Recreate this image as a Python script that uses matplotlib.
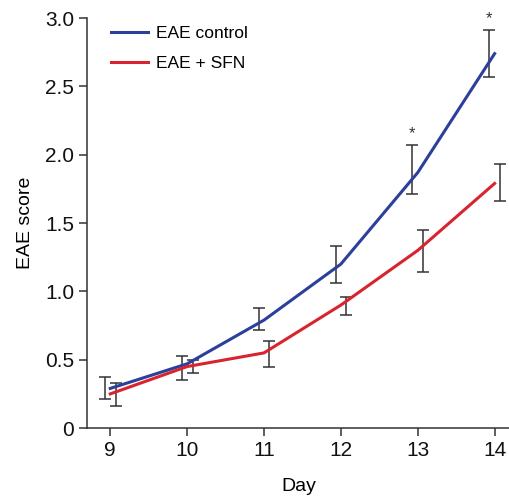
import matplotlib
matplotlib.use('Agg')
import matplotlib.pyplot as plt
import numpy as np

plt.rcParams['font.family'] = ['Liberation Sans', 'DejaVu Sans']

# data
days = [9, 10, 11, 12, 13, 14]
ctrl_mean = [0.29, 0.47, 0.79, 1.20, 1.87, 2.74]
ctrl_lo = [0.21, 0.35, 0.72, 1.06, 1.71, 2.57]
ctrl_hi = [0.37, 0.53, 0.88, 1.33, 2.07, 2.91]
sfn_mean = [0.25, 0.45, 0.55, 0.90, 1.30, 1.79]
sfn_lo = [0.16, 0.40, 0.45, 0.83, 1.14, 1.66]
sfn_hi = [0.33, 0.50, 0.64, 0.96, 1.45, 1.93]
star_days = [13, 14]

blue = '#2b3f9b'
red = '#d8242e'
grey = '#333333'

fig = plt.figure(figsize=(5.10, 5.03), dpi=100)
ax = fig.add_axes([0.171, 0.149, 0.829, 0.815])

d = np.array(days, dtype=float)
ax.plot(d, ctrl_mean, color=blue, lw=2.2, label='EAE control', zorder=3)
ax.plot(d, sfn_mean, color=red, lw=2.2, label='EAE + SFN', zorder=3)

cm = np.array(ctrl_mean)
sm = np.array(sfn_mean)
ax.errorbar(d - 0.07, cm, yerr=[cm - np.array(ctrl_lo), np.array(ctrl_hi) - cm],
            fmt='none', ecolor=grey, elinewidth=1.1, capsize=4.5, capthick=1.1, zorder=2)
ax.errorbar(d + 0.07, sm, yerr=[sm - np.array(sfn_lo), np.array(sfn_hi) - sm],
            fmt='none', ecolor=grey, elinewidth=1.1, capsize=4.5, capthick=1.1, zorder=2)

for sd in star_days:
    i = days.index(sd)
    ax.text(sd - 0.07, ctrl_hi[i] + 0.03, '*', ha='center', va='bottom',
            fontsize=12, color=grey)

ax.set_xlim(8.7, 14.2)
ax.set_ylim(0, 3.0)
ax.set_xticks(days)
ax.set_yticks([0, 0.5, 1.0, 1.5, 2.0, 2.5, 3.0])
ax.set_yticklabels(['0', '0.5', '1.0', '1.5', '2.0', '2.5', '3.0'])
ax.tick_params(labelsize=15, colors=grey, labelcolor='#111111', width=1.1, length=6)
for s in ['top', 'right']:
    ax.spines[s].set_visible(False)
for s in ['left', 'bottom']:
    ax.spines[s].set_color(grey)
    ax.spines[s].set_linewidth(1.1)

ax.set_xlabel('Day', fontsize=14, labelpad=13)
ax.set_ylabel('EAE score', fontsize=14, labelpad=8)

ax.legend(loc='upper left', bbox_to_anchor=(0.02, 1.02), frameon=False, fontsize=12.5,
          handlelength=2.1, handletextpad=0.5, labelspacing=0.85)

fig.savefig('out.png', dpi=100)
